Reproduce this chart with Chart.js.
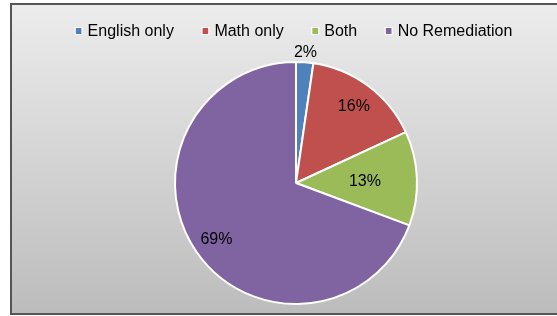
<!DOCTYPE html>
<html>
<head>
<meta charset="utf-8">
<script src="https://cdn.jsdelivr.net/npm/chart.js@4"></script>
<style>
  html, body { margin: 0; padding: 0; background: #fff; }
  #wrap { position: relative; width: 557px; height: 316px; overflow: hidden; }
  #frame {
    position: absolute; left: 10px; top: 3px; width: 580px; height: 308px;
    border: 2px solid #555;
    background: linear-gradient(#ececec, #bcbcbc);
  }
  #pie { position: absolute; left: 0; top: 0; }
</style>
</head>
<body>
<div id="wrap">
  <div id="frame"></div>
  <canvas id="pie" width="557" height="316"></canvas>
</div>
<script>
// Chart data
const categories = ["English only", "Math only", "Both", "No Remediation"];
const shares = [2.3, 15.8, 12.6, 69.3];
const sliceColors = ["#4F81BD", "#C0504D", "#9BBB59", "#8064A2"];

// how far out each percent label sits (fraction of the radius)
const labelRadius = [1.09, 0.80, 0.57, 0.80];

const fontFamily = "'Liberation Sans', Arial, sans-serif";
const font = "16px " + fontFamily;

// Percent labels drawn on top of the arcs
const sliceLabels = {
  id: "sliceLabels",
  afterDatasetsDraw(chart) {
    const ctx = chart.ctx;
    const arcs = chart.getDatasetMeta(0).data;
    ctx.save();
    ctx.font = font;
    ctx.fillStyle = "#000";
    ctx.textAlign = "center";
    ctx.textBaseline = "middle";
    arcs.forEach((arc, i) => {
      const p = arc.getProps(["x", "y", "startAngle", "endAngle", "outerRadius"], true);
      const mid = (p.startAngle + p.endAngle) / 2;
      const r = p.outerRadius * labelRadius[i];
      // +1.5 nudges the glyphs down to where Excel puts them
      ctx.fillText(Math.round(shares[i]) + "%", p.x + Math.cos(mid) * r, p.y + Math.sin(mid) * r + 1.5);
    });
    ctx.restore();
  }
};

// Legend row above the pie (small squares, wide gaps like Excel)
const topLegend = {
  id: "topLegend",
  afterDraw(chart) {
    const ctx = chart.ctx;
    const labels = chart.data.labels;
    const colors = chart.data.datasets[0].backgroundColor;
    const box = 6, textGap = 6, itemGap = 28.5, y = 31;
    ctx.save();
    ctx.font = font;
    ctx.textBaseline = "middle";
    const widths = labels.map(t => box + textGap + ctx.measureText(t).width);
    const total = widths.reduce((a, b) => a + b, 0) + itemGap * (labels.length - 1);
    let x = (chart.chartArea.left + chart.chartArea.right) / 2 - 2 - total / 2;
    labels.forEach((t, i) => {
      ctx.fillStyle = colors[i];
      ctx.fillRect(x, y - box / 2, box, box);
      ctx.strokeStyle = "#fff";
      ctx.lineWidth = 1;
      ctx.strokeRect(x - 0.5, y - box / 2 - 0.5, box + 1, box + 1);
      ctx.fillStyle = "#000";
      ctx.fillText(t, x + box + textGap, y + 1);
      x += widths[i] + itemGap;
    });
    ctx.restore();
  }
};

const ctx = document.getElementById("pie").getContext("2d");
const pieChart = new Chart(ctx, {
  type: "pie",
  data: {
    labels: categories,
    datasets: [{
      data: shares,
      backgroundColor: sliceColors,
      borderColor: "#fff",
      borderWidth: 2,
      hoverOffset: 0
    }]
  },
  options: {
    responsive: false,
    animation: false,
    layout: { padding: { left: 35, right: 0, top: 61, bottom: 11 } },
    plugins: {
      tooltip: { enabled: false },
      legend: { display: false }
    }
  },
  plugins: [sliceLabels, topLegend]
});
</script>
</body>
</html>
